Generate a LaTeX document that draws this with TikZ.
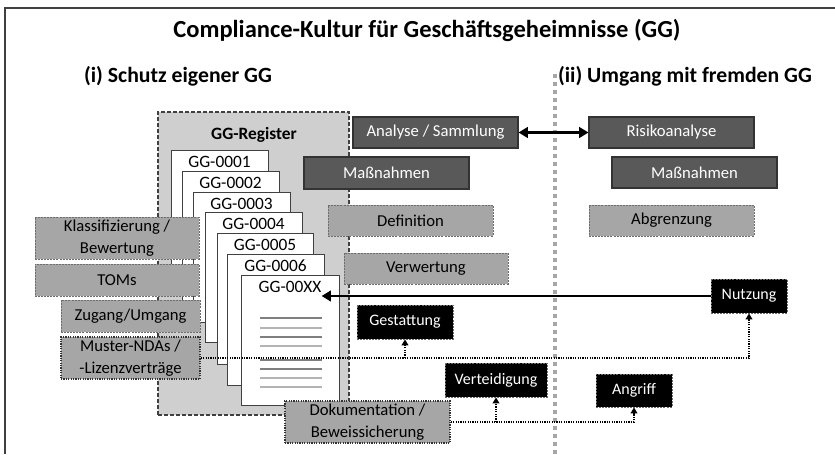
\documentclass[tikz,border=0pt]{standalone}
\usepackage{fontspec}
\setmainfont{Carlito}
\usetikzlibrary{arrows.meta}
\definecolor{darkbox}{HTML}{595959}
\definecolor{darkedge}{HTML}{333333}
\definecolor{midbox}{HTML}{A6A6A6}
\definecolor{midedge}{HTML}{6E6E6E}
\definecolor{regfill}{HTML}{CFCFCF}
\definecolor{sepgray}{HTML}{A6A6A6}
\definecolor{linedark}{HTML}{7F7F7F}
\definecolor{linelight}{HTML}{B4B4B4}
\newcommand\bx[7]{%
  \pgfmathsetmacro\cx{(#3+#5)/2}\pgfmathsetmacro\cy{(#4+#6)/2}%
  \pgfmathsetmacro\ww{(#5-#3)*0.75}\pgfmathsetmacro\hh{(#6-#4)*0.75}%
  \node[#1, minimum width=\ww pt, minimum height=\hh pt] (#2) at (\cx,\cy) {#7};}
\tikzset{
  base/.style={rectangle, inner sep=0pt, align=center, font=\fontsize{12.5}{16.5}\selectfont},
  darkstyle/.style={base, fill=darkbox, draw=darkedge, line width=0.8pt, text=white},
  midstyle/.style={base, fill=midbox, draw=midedge, line width=0.6pt, dash pattern=on 1.5pt off 0.8pt},
  dotbox/.style={base, fill=midbox, draw=black!80, line width=1.1pt, dash pattern=on 0.9pt off 0.9pt},
  blackbox/.style={base, fill=black, draw=midedge, line width=0.6pt, dash pattern=on 1.5pt off 0.8pt, text=white, font=\fontsize{12}{14}\selectfont},
  regstyle/.style={rectangle, inner sep=0pt, fill=regfill, draw=black!75, line width=0.8pt, dash pattern=on 3pt off 1.5pt},
  cardstyle/.style={rectangle, inner sep=0pt, fill=white, draw=black!75, line width=0.6pt},
  cardlbl/.style={inner sep=0pt, font=\fontsize{13}{15}\selectfont},
  dotline/.style={line width=1.1pt, dash pattern=on 0.9pt off 0.9pt, -{Triangle[width=5pt,length=4.5pt]}},
  docline/.style={line width=#1, line cap=butt},
  sectitle/.style={font=\fontsize{16.3}{18}\selectfont\bfseries},
}
\begin{document}
\begin{tikzpicture}[x=0.75pt,y=-0.75pt]
\useasboundingbox (0,0) rectangle (835,454);
% frame
\draw[black!75, line width=1.1pt] (5,454) -- (5,8) -- (835,8);
% titles
\node[font=\fontsize{18.4}{21}\selectfont\bfseries] (title) at (427,30) {Compliance-Kultur für Geschäftsgeheimnisse (GG)};
\node[sectitle] (sec1) at (178,76) {(i) Schutz eigener GG};
\node[sectitle] (sec2) at (685,76) {(ii) Umgang mit fremden GG};
% separator
\draw[sepgray, line width=3pt, dash pattern=on 3pt off 3pt] (555,74) -- (555,454);
% register
\bx{regstyle}{reg}{158}{112}{349}{415}{}
\node[font=\fontsize{13}{15}\selectfont\bfseries] (regt) at (254,135) {GG-Register};
% cards
\bx{cardstyle}{c1}{171}{150}{268}{280}{}
\node[cardlbl, anchor=north] (l1) at ([yshift=-4.5pt]c1.north) {GG-0001};
\bx{cardstyle}{c2}{182}{171}{279}{301}{}
\node[cardlbl, anchor=north] (l2) at ([yshift=-4.5pt]c2.north) {GG-0002};
\bx{cardstyle}{c3}{193}{192}{290}{322}{}
\node[cardlbl, anchor=north] (l3) at ([yshift=-4.5pt]c3.north) {GG-0003};
\bx{cardstyle}{c4}{205}{212}{302}{342}{}
\node[cardlbl, anchor=north] (l4) at ([yshift=-4.5pt]c4.north) {GG-0004};
\bx{cardstyle}{c5}{217}{233}{313}{364}{}
\node[cardlbl, anchor=north] (l5) at ([yshift=-4.5pt]c5.north) {GG-0005};
\bx{cardstyle}{c6}{227}{254}{324}{385}{}
\node[cardlbl, anchor=north] (l6) at ([yshift=-4.5pt]c6.north) {GG-0006};
\bx{cardstyle}{cx}{241}{275}{339}{405}{}
\node[cardlbl, anchor=north] (lx) at ([yshift=-4.5pt]cx.north) {GG-00XX};
% document lines
\draw[docline=1.6pt, linedark] (260,318) -- (322,318);
\draw[docline=1.6pt, linelight] (260,328) -- (322,328);
\draw[docline=0.8pt, linedark] (260,337) -- (322,337);
\draw[docline=1.2pt, linelight] (260,346) -- (322,346);
\draw[docline=1.6pt, linedark] (260,360) -- (322,360);
\draw[docline=0.8pt, linedark] (260,369) -- (322,369);
\draw[docline=1.6pt, linelight] (260,378) -- (322,378);
\draw[docline=1.2pt, linelight] (260,387) -- (322,387);
% left boxes
\bx{midstyle}{klass}{35}{217}{199}{259}{Klassifizierung /\\Bewertung}
\bx{midstyle}{toms}{35}{264}{199}{296}{TOMs}
\bx{midstyle}{zug}{61}{300}{200}{332}{Zugang/Umgang}
\bx{dotbox}{must}{61}{337}{200}{379}{Muster-NDAs /\\-Lizenzverträge}
% middle boxes
\bx{darkstyle}{anal}{353}{117}{518}{148}{Analyse / Sammlung}
\bx{darkstyle}{mass}{304}{157}{469}{189}{Maßnahmen}
\bx{midstyle}{defi}{328}{205}{493}{236}{Definition}
\bx{midstyle}{verw}{344}{253}{508}{284}{Verwertung}
\bx{darkstyle}{risk}{589}{117}{754}{148}{Risikoanalyse}
\bx{darkstyle}{mass2}{612}{157}{777}{188}{Maßnahmen}
\bx{midstyle}{abgr}{589}{205}{754}{236}{Abgrenzung}
% black boxes
\bx{blackbox}{nutz}{711}{279}{787}{313}{Nutzung}
\bx{blackbox}{gest}{357}{305}{453}{339}{Gestattung}
\bx{blackbox}{vert}{445}{363}{547}{397}{Verteidigung}
\bx{blackbox}{angr}{596}{374}{672}{407}{Angriff}
% dotted connectors
\draw[dotline] (must.east) -| (nutz.south);
\draw[dotline] (gest.south |- must.east) -- (gest.south);
% documentation box
\bx{dotbox}{doku}{285}{401}{450}{443}{Dokumentation /\\Beweissicherung}
\draw[dotline] (doku.east) -| (angr.south);
\draw[dotline] (vert.south |- doku.east) -- (vert.south);
% arrows
\draw[line width=2.2pt, {Triangle[width=8pt,length=7pt]}-{Triangle[width=8pt,length=7pt]}] (anal.east) -- (risk.west);
\draw[line width=2.2pt, -{Triangle[width=8pt,length=7pt]}] (nutz.west) -- (lx.east |- nutz.west);
\end{tikzpicture}
\end{document}
